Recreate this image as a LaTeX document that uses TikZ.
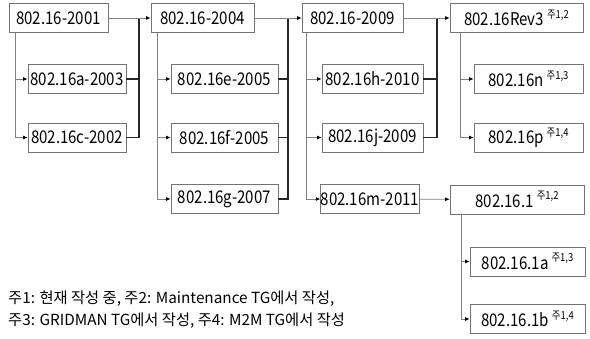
\documentclass[tikz,border=0pt]{standalone}
\usepackage{fontspec}
\setmainfont{Noto Sans CJK KR}
\newfontfamily\boxfont{Noto Sans CJK KR}[FakeStretch=0.86]
\usetikzlibrary{arrows.meta}
\newcommand{\jnote}[1]{\,\raisebox{0.42em}{\fontsize{11}{11}\selectfont 주#1}}

\begin{document}
\begin{tikzpicture}[x=1pt, y=-1pt, every node/.style={font=\boxfont\fontsize{17.5}{19}\selectfont}, >={Latex[length=4.5pt,width=4pt,color=black]},
  box/.style={draw=black!55, line width=0.7pt, inner sep=0pt, minimum height=29pt},
  branch/.style={draw=black!50, line width=0.8pt},
  merge/.style={draw=black!85, line width=1.5pt}]
	\useasboundingbox (0,0) rectangle (590,338);
	\node[box, minimum width=99pt] (s2001) at (58.5,18) {802.16-2001};
	\node[box, minimum width=98pt] (s2003a) at (77,79) {802.16a-2003};
	\node[box, minimum width=98pt] (s2002c) at (77,137.5) {802.16c-2002};
	\node[box, minimum width=103pt] (s2004) at (202.5,18) {802.16-2004};
	\node[box, minimum width=107pt] (s2005e) at (224.5,79) {802.16e-2005};
	\node[box, minimum width=107pt] (s2005f) at (224.5,137.5) {802.16f-2005};
	\node[box, minimum width=107pt] (s2007g) at (224.5,199) {802.16g-2007};
	\node[box, minimum width=101pt] (s2009) at (352.5,18) {802.16-2009};
	\node[box, minimum width=101pt] (s2010h) at (372.5,79) {802.16h-2010};
	\node[box, minimum width=101pt] (s2009j) at (372.5,137.5) {802.16j-2009};
	\node[box, minimum width=98pt] (s2011m) at (370,199) {802.16m-2011};
	\node[box, minimum width=133pt] (rev3) at (516.5,18) {802.16Rev3\jnote{1,2}};
	\node[box, minimum width=109pt] (s16n) at (528.5,79) {802.16n\jnote{1,3}};
	\node[box, minimum width=109pt] (s16p) at (528.5,137.5) {802.16p\jnote{1,4}};
	\node[box, minimum width=134pt] (s161) at (517,199.5) {802.16.1\jnote{1,2}};
	\node[box, minimum width=115pt] (s161a) at (527.5,261.5) {802.16.1a\jnote{1,3}};
	\node[box, minimum width=115pt] (s161b) at (527.5,319) {802.16.1b\jnote{1,4}};
	\coordinate (j1) at (139,18);
	\coordinate (j2) at (288,18);
	\coordinate (j3) at (437,18);
	\draw[branch, ->] ([xshift=7pt]s2001.south west) |- (s2003a.west);
	\draw[branch, ->] ([xshift=7pt]s2001.south west) |- (s2002c.west);
	\draw[merge] (s2003a.east) -- (s2003a.east -| j1);
	\draw[merge] (s2002c.east) -| (j1);
	\draw[branch, ->] (s2001) -- (s2004);
	\draw[branch, ->] ([xshift=7pt]s2004.south west) |- (s2005e.west);
	\draw[branch, ->] ([xshift=7pt]s2004.south west) |- (s2005f.west);
	\draw[branch, ->] ([xshift=7pt]s2004.south west) |- (s2007g.west);
	\draw[merge] (s2005e.east) -- (s2005e.east -| j2);
	\draw[merge] (s2005f.east) -- (s2005f.east -| j2);
	\draw[merge] (s2007g.east) -| (j2);
	\draw[branch, ->] (s2004) -- (s2009);
	\draw[branch, ->] ([xshift=5pt]s2009.south west) |- (s2010h.west);
	\draw[branch, ->] ([xshift=5pt]s2009.south west) |- (s2009j.west);
	\draw[branch, ->] ([xshift=5pt]s2009.south west) |- (s2011m.west);
	\draw[merge] (s2010h.east) -- (s2010h.east -| j3);
	\draw[merge] (s2009j.east) -| (j3);
	\draw[branch, ->] (s2009) -- (rev3);
	\draw[branch, ->] ([xshift=11pt]rev3.south west) |- (s16n.west);
	\draw[branch, ->] ([xshift=11pt]rev3.south west) |- (s16p.west);
	\draw[branch, ->] (s2011m) -- (s161);
	\draw[branch, ->] ([xshift=12pt]s161.south west) |- (s161a.west);
	\draw[branch, ->] ([xshift=12pt]s161.south west) |- (s161b.west);
	\node[anchor=west, inner sep=0pt, font=\fontsize{15.3}{17}\selectfont] (note1) at (8,299) {주1: 현재 작성 중,\ 주2: Maintenance TG에서 작성,};
	\node[anchor=west, inner sep=0pt, font=\fontsize{15.3}{17}\selectfont] (note2) at (8,321) {주3: GRIDMAN TG에서 작성,\ 주4: M2M TG에서 작성};
\end{tikzpicture}
\end{document}
